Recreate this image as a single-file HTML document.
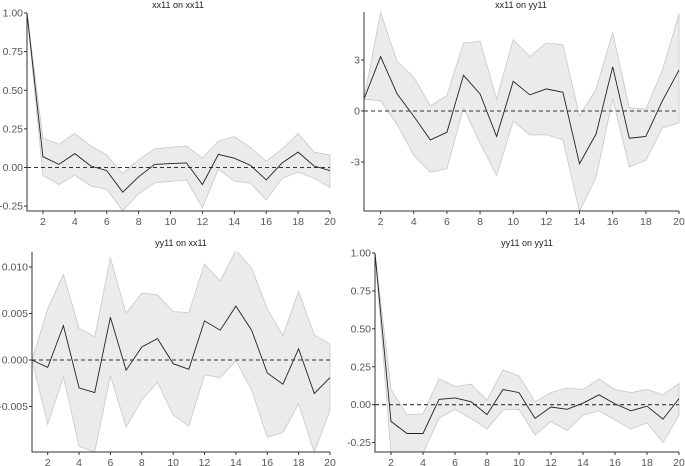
<!DOCTYPE html>
<html><head><meta charset="utf-8"><style>
html,body{margin:0;padding:0;background:#fff;}
svg{display:block;font-family:"Liberation Sans",sans-serif;}
.tick{font-size:10.5px;fill:#555;}
.title{font-size:9px;fill:#222;}
</style></head><body>
<svg id="chart" width="685" height="466" viewBox="0 0 685 466"></svg>
<script>
const periods = [1,2,3,4,5,6,7,8,9,10,11,12,13,14,15,16,17,18,19,20];
const xTicks = [2,4,6,8,10,12,14,16,18,20];

const p1Line = [1.0,0.07,0.02,0.09,0.01,-0.02,-0.16,-0.06,0.02,0.025,0.03,-0.11,0.085,0.06,0.015,-0.08,0.03,0.10,0.01,-0.02];
const p1Upper = [1.0,0.19,0.15,0.22,0.14,0.08,-0.04,0.05,0.12,0.13,0.14,0.06,0.17,0.20,0.13,0.04,0.12,0.22,0.10,0.08];
const p1Lower = [1.0,-0.05,-0.11,-0.05,-0.12,-0.14,-0.28,-0.17,-0.10,-0.09,-0.08,-0.26,-0.01,-0.09,-0.10,-0.21,-0.07,-0.03,-0.07,-0.13];
const p1Ticks = [1.00,0.75,0.50,0.25,0.00,-0.25];
const p1Labels = ["1.00","0.75","0.50","0.25","0.00","-0.25"];

const p2Line = [0.7,3.2,1.0,-0.3,-1.7,-1.25,2.1,1.0,-1.5,1.75,0.95,1.3,1.1,-3.1,-1.35,2.6,-1.6,-1.5,0.6,2.4];
const p2Upper = [0.7,5.8,2.9,2.0,0.3,0.9,4.0,4.1,0.7,4.2,3.2,4.0,3.9,-0.3,1.3,4.6,0.2,0.1,2.4,5.7];
const p2Lower = [0.7,0.6,-0.8,-2.6,-3.6,-3.4,0.2,-1.9,-3.8,-0.6,-1.4,-1.4,-1.7,-5.9,-3.9,0.7,-3.3,-2.9,-1.0,-0.7];
const p2Ticks = [3,0,-3];
const p2Labels = ["3","0","-3"];

const p3Line = [0,-0.0008,0.0037,-0.003,-0.0035,0.0046,-0.0011,0.0014,0.0023,-0.0004,-0.001,0.0042,0.0032,0.0058,0.0032,-0.0014,-0.0026,0.0012,-0.0036,-0.0019];
const p3Upper = [0,0.0055,0.0092,0.0034,0.0025,0.011,0.005,0.0072,0.007,0.0052,0.0051,0.0103,0.0085,0.0118,0.0099,0.0055,0.0026,0.0074,0.0027,0.0017];
const p3Lower = [0,-0.0069,-0.0018,-0.0093,-0.0099,-0.0017,-0.0072,-0.0043,-0.0024,-0.0059,-0.0071,-0.0016,-0.0019,-0.0001,-0.0032,-0.0083,-0.0078,-0.0047,-0.0099,-0.0054];
const p3Ticks = [0.010,0.005,0.000,-0.005];
const p3Labels = ["0.010","0.005","0.000","-0.005"];

const p4Line = [1.0,-0.11,-0.19,-0.19,0.035,0.045,0.02,-0.065,0.10,0.08,-0.09,-0.015,-0.03,0.01,0.065,0.005,-0.04,-0.01,-0.095,0.04];
const p4Upper = [1.0,0.10,-0.065,-0.06,0.17,0.12,0.135,0.03,0.23,0.19,0.02,0.08,0.11,0.10,0.17,0.10,0.08,0.10,0.065,0.14];
const p4Lower = [1.0,-0.32,-0.32,-0.32,-0.09,-0.03,-0.09,-0.16,-0.035,-0.03,-0.20,-0.11,-0.17,-0.07,-0.04,-0.10,-0.16,-0.12,-0.25,-0.07];
const p4Ticks = [1.00,0.75,0.50,0.25,0.00,-0.25];
const p4Labels = ["1.00","0.75","0.50","0.25","0.00","-0.25"];

const NS = "http://www.w3.org/2000/svg";
const svg = document.getElementById("chart");
function mk(tag, attrs, parent){
  const e = document.createElementNS(NS, tag);
  for (const k in attrs) e.setAttribute(k, attrs[k]);
  (parent||svg).appendChild(e);
  return e;
}

const defs = mk("defs", {});

function panel(cfg, idx){
  const g = mk("g", {});
  
  
  const xs = v => cfg.x0 + (v - 1) / 19 * (cfg.x1 - cfg.x0);
  const ys = v => cfg.yZero - v * cfg.pxPerUnit;

  const cp = mk("clipPath", {id: "clip" + idx}, defs);
  mk("rect", {x: cfg.x0, y: cfg.top, width: cfg.x1 - cfg.x0 + 1, height: cfg.bottom - cfg.top}, cp);

  const plot = mk("g", {"clip-path": "url(#clip" + idx + ")"}, g);

  let d = "";
  periods.forEach((p, i) => { d += (i ? "L" : "M") + xs(p).toFixed(1) + "," + ys(cfg.upper[i]).toFixed(1); });
  for (let i = periods.length - 1; i >= 0; i--) d += "L" + xs(periods[i]).toFixed(1) + "," + ys(cfg.lower[i]).toFixed(1);
  d += "Z";
  const band = mk("path", {d: d, fill: "#ebebeb", stroke: "#c8c8c8", "stroke-width": 0.8}, plot);
  
  

  const zl = mk("line", {x1: cfg.x0, x2: cfg.x1, y1: ys(0), y2: ys(0), stroke: "#333", "stroke-width": 1.1, "stroke-dasharray": "4,3"}, plot);
  
  

  let ld = "";
  periods.forEach((p, i) => { ld += (i ? "L" : "M") + xs(p).toFixed(1) + "," + ys(cfg.line[i]).toFixed(1); });
  const ln = mk("path", {d: ld, fill: "none", stroke: "#222", "stroke-width": 0.9}, plot);
  
  

  const ax = mk("path", {d: "M" + cfg.x0 + "," + cfg.top + "V" + cfg.bottom + "H" + cfg.x1, fill: "none", stroke: "#333", "stroke-width": 1}, g);
  
  

  cfg.ticks.forEach((t, i) => {
    const y = ys(t);
    mk("line", {x1: cfg.x0 - 3, x2: cfg.x0, y1: y, y2: y, stroke: "#333"}, g);
    const tx = mk("text", {x: cfg.x0 - 4, y: y + 3.5, "text-anchor": "end", class: "tick"}, g);
    tx.textContent = cfg.labels[i];
    
    
  });
  xTicks.forEach(t => {
    const x = xs(t);
    mk("line", {x1: x, x2: x, y1: cfg.bottom, y2: cfg.bottom + 3, stroke: "#333"}, g);
    const tx = mk("text", {x: x, y: cfg.bottom + 14, "text-anchor": "middle", class: "tick"}, g);
    tx.textContent = String(t);
    
    
  });
  const ti = mk("text", {x: cfg.titleX, y: cfg.titleY, "text-anchor": "middle", class: "title"}, g);
  ti.textContent = cfg.title;
  
  
}

panel({name:"panel-xx11-on-xx11", title:"xx11 on xx11", titleX:178, titleY:8,
  x0:27, x1:330, top:13, bottom:211, yZero:167.5, pxPerUnit:154.5,
  line:p1Line, upper:p1Upper, lower:p1Lower, ticks:p1Ticks, labels:p1Labels}, 1);
panel({name:"panel-xx11-on-yy11", title:"xx11 on yy11", titleX:521, titleY:8,
  x0:364, x1:679, top:12, bottom:211, yZero:111, pxPerUnit:17,
  line:p2Line, upper:p2Upper, lower:p2Lower, ticks:p2Ticks, labels:p2Labels}, 2);
panel({name:"panel-yy11-on-xx11", title:"yy11 on xx11", titleX:181, titleY:246,
  x0:32, x1:330, top:252, bottom:452, yZero:360, pxPerUnit:9300,
  line:p3Line, upper:p3Upper, lower:p3Lower, ticks:p3Ticks, labels:p3Labels}, 3);
panel({name:"panel-yy11-on-yy11", title:"yy11 on yy11", titleX:527, titleY:246,
  x0:375, x1:679, top:253, bottom:452, yZero:404.7, pxPerUnit:151.7,
  line:p4Line, upper:p4Upper, lower:p4Lower, ticks:p4Ticks, labels:p4Labels}, 4);
</script>
</body></html>
